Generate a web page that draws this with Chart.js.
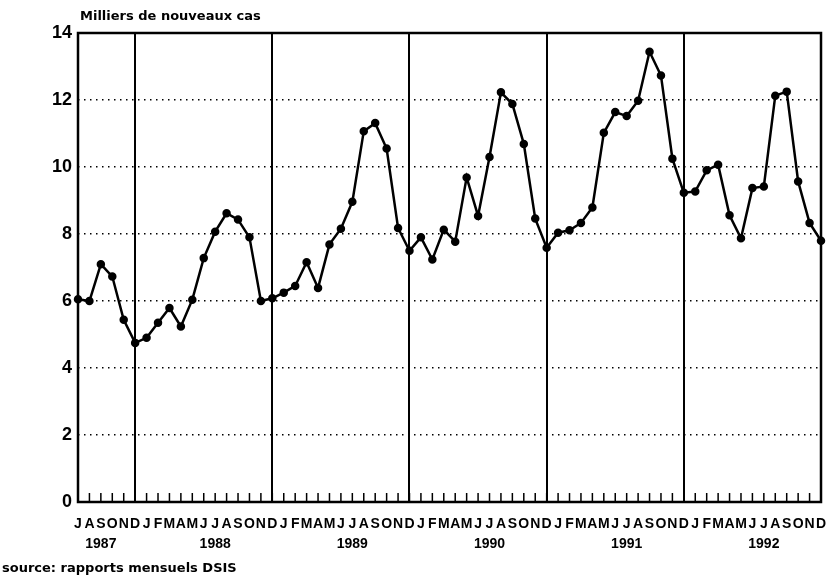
<!DOCTYPE html>
<html>
<head>
<meta charset="utf-8">
<script src="https://cdn.jsdelivr.net/npm/chart.js@4.4.1/dist/chart.umd.min.js"></script>
<style>
  body { margin: 0; background: #fff; }
  #wrap { width: 827px; height: 584px; position: relative; }
</style>
</head>
<body>
<div id="wrap"><canvas id="cases_chart"></canvas></div>
<script>
// DATA
const monthLetters = ['J','F','M','A','M','J','J','A','S','O','N','D'];
const years = ['1987','1988','1989','1990','1991','1992'];
const firstMonth = 6; // series starts in July 1987
// where each year label sits (index of the month it is centred under)
const yearLabelAt = [2, 12, 24, 36, 48, 60];

// thousands of new cases, monthly, Jul 1987 - Dec 1992
const cases = [
	6.05, 6.0, 7.1, 6.73, 5.44, 4.75,
	4.9, 5.35, 5.79, 5.24, 6.04, 7.28, 8.07, 8.62, 8.43, 7.9, 6.0, 6.08,
	6.25, 6.45, 7.16, 6.39, 7.69, 8.16, 8.96, 11.07, 11.31, 10.55, 8.18, 7.5,
	7.9, 7.24, 8.13, 7.77, 9.69, 8.54, 10.3, 12.23, 11.88, 10.69, 8.46, 7.59,
	8.04, 8.11, 8.33, 8.79, 11.02, 11.64, 11.52, 11.98, 13.44, 12.73, 10.25, 9.23,
	9.27, 9.9, 10.07, 8.56, 7.87, 9.37, 9.42, 12.13, 12.25, 9.57, 8.33, 7.8
];
const yTicks = [0, 2, 4, 6, 8, 10, 12, 14];

const titleText = 'Milliers de nouveaux cas';
const sourceText = 'source: rapports mensuels DSIS';

// BUILD LABELS
const labels = cases.map((v, i) => {
	const letter = monthLetters[(firstMonth + i) % 12];
	const y = yearLabelAt.indexOf(i);
	return [letter, y >= 0 ? years[y] : ''];
});
const isDecember = i => (firstMonth + i) % 12 === 11;

const FONT = "'Liberation Sans', Arial, sans-serif";
const WIDE_FONT = "'DejaVu Sans', sans-serif";
Chart.defaults.font.family = FONT;
Chart.defaults.font.weight = 'bold';
Chart.defaults.color = '#000';

// frame, inner month ticks, title and source
const decorations = {
	id: 'decorations',
	afterDraw(chart) {
		const { ctx, chartArea: a, scales: { x } } = chart;
		ctx.save();
		ctx.strokeStyle = '#000';
		ctx.lineWidth = 1.5;
		ctx.beginPath();
		for (let i = 0; i < labels.length; i++) {
			const px = x.getPixelForTick(i);
			ctx.moveTo(px, a.bottom);
			ctx.lineTo(px, a.bottom - 9);
		}
		ctx.stroke();

		ctx.lineWidth = 2.5;
		ctx.strokeRect(a.left, a.top, a.right - a.left, a.bottom - a.top);

		ctx.fillStyle = '#000';
		ctx.textBaseline = 'alphabetic';
		ctx.textAlign = 'left';
		ctx.font = 'bold 13px ' + WIDE_FONT;
		ctx.fillText(titleText, 80, 20);
		ctx.font = 'bold 13px ' + WIDE_FONT;
		ctx.fillText(sourceText, 2, 572);
		ctx.restore();
	}
};

const ctx = document.getElementById('cases_chart').getContext('2d');
new Chart(ctx, {
	type: 'line',
	data: {
		labels: labels,
		datasets: [{
			data: cases,
			borderColor: '#000',
			backgroundColor: '#000',
			borderWidth: 2.5,
			pointRadius: 3,
			pointHoverRadius: 3,
			tension: 0,
			clip: false
		}]
	},
	options: {
		responsive: true,
		maintainAspectRatio: false,
		animation: false,
		layout: { padding: { top: 33, right: 6, bottom: 0, left: 0 } },
		plugins: {
			legend: { display: false },
			tooltip: { enabled: false }
		},
		scales: {
			x: {
				type: 'category',
				offset: false,
				grid: {
					color: c => isDecember(c.index) ? '#000' : 'rgba(0,0,0,0)',
					lineWidth: 2,
					drawTicks: false
				},
				border: { display: false },
				ticks: {
					autoSkip: false,
					maxRotation: 0,
					minRotation: 0,
					padding: 12,
					font: { size: 14, weight: 'bold', lineHeight: 1.45 }
				},
				afterFit: s => { s.height = 82; s.paddingLeft = 0; s.paddingRight = 0; }
			},
			y: {
				min: 0,
				max: 14,
				afterBuildTicks: s => { s.ticks = yTicks.map(v => ({ value: v })); },
				grid: {
					color: c => (c.tick && (c.tick.value === 0 || c.tick.value === 14)) ? 'rgba(0,0,0,0)' : '#000',
					lineWidth: 1.5,
					drawTicks: false
				},
				border: { display: false, dash: [1.5, 4.5] },
				ticks: {
					padding: 6,
					font: { size: 18, weight: 'bold' }
				},
				afterFit: s => { s.width = 78; }
			}
		}
	},
	plugins: [decorations]
});
</script>
</body>
</html>
